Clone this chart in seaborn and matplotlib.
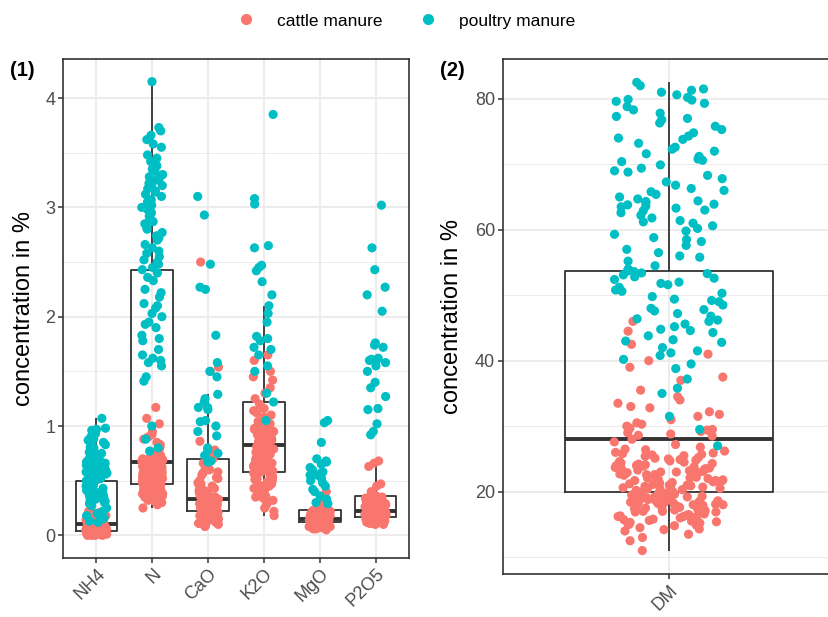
import numpy as np
import pandas as pd
import seaborn as sns
import matplotlib.pyplot as plt
from matplotlib.lines import Line2D
from matplotlib.ticker import MultipleLocator

# categories and groups
nutrients = ['NH4', 'N', 'CaO', 'K2O', 'MgO', 'P2O5']
groups = ['cattle manure', 'poultry manure']
palette = {'cattle manure': '#F8766D', 'poultry manure': '#00BFC4'}

# values (concentration in %)
nh4_cattle = [0.00, 0.00, 0.00, 0.01, 0.01, 0.01, 0.01, 0.01, 0.01, 0.01,
              0.01, 0.02, 0.02, 0.02, 0.02, 0.02, 0.02, 0.02, 0.02, 0.02,
              0.02, 0.02, 0.02, 0.03, 0.03, 0.03, 0.03, 0.03, 0.03, 0.03,
              0.03, 0.03, 0.03, 0.03, 0.03, 0.03, 0.01, 0.02, 0.03, 0.00,
              0.01, 0.02, 0.03, 0.02, 0.01, 0.03, 0.02, 0.03, 0.01, 0.02,
              0.04, 0.04, 0.04, 0.04, 0.05, 0.05, 0.05, 0.05, 0.05, 0.05,
              0.05, 0.06, 0.06, 0.06, 0.06, 0.06, 0.06, 0.06, 0.06, 0.07,
              0.07, 0.07, 0.07, 0.07, 0.07, 0.07, 0.08, 0.08, 0.08, 0.08,
              0.08, 0.08, 0.08, 0.09, 0.09, 0.09, 0.09, 0.09, 0.09, 0.09,
              0.05, 0.06, 0.07, 0.08, 0.09, 0.05, 0.06, 0.07, 0.08, 0.09,
              0.10, 0.11, 0.11, 0.12, 0.12, 0.13, 0.13, 0.14, 0.14, 0.15,
              0.15, 0.16, 0.16, 0.17, 0.17, 0.18, 0.19, 0.20, 0.21, 0.22,
              0.23]
nh4_poultry = [0.12, 0.13, 0.15, 0.16, 0.18, 0.20, 0.22, 0.25, 0.27, 0.29,
               0.30, 0.31, 0.32, 0.33, 0.34, 0.35, 0.36, 0.37, 0.38, 0.39,
               0.40, 0.41, 0.42, 0.43, 0.44, 0.45, 0.46, 0.47, 0.49, 0.50,
               0.51, 0.52, 0.53, 0.54, 0.55, 0.55, 0.56, 0.57, 0.58, 0.58,
               0.59, 0.60, 0.60, 0.61, 0.62, 0.62, 0.63, 0.64, 0.64, 0.65,
               0.66, 0.66, 0.67, 0.68, 0.68, 0.69, 0.70, 0.71, 0.72, 0.73,
               0.74, 0.75, 0.76, 0.77, 0.78, 0.80, 0.81, 0.83, 0.85, 0.87,
               0.88, 0.90, 0.93, 0.96, 0.97, 0.98, 0.60, 0.65, 0.70, 1.07]

n_cattle = [0.25, 0.28, 0.30, 0.31, 0.32, 0.33, 0.34, 0.35, 0.35, 0.36,
            0.36, 0.37, 0.37, 0.38, 0.38, 0.39, 0.39, 0.40, 0.40, 0.40,
            0.41, 0.41, 0.41, 0.42, 0.42, 0.42, 0.43, 0.43, 0.43, 0.43,
            0.44, 0.44, 0.44, 0.44, 0.45, 0.45, 0.45, 0.45, 0.46, 0.46,
            0.46, 0.46, 0.33, 0.38, 0.42, 0.44, 0.31, 0.39, 0.45, 0.36,
            0.47, 0.48, 0.48, 0.49, 0.49, 0.50, 0.50, 0.51, 0.51, 0.52,
            0.52, 0.53, 0.53, 0.54, 0.54, 0.55, 0.55, 0.56, 0.56, 0.57,
            0.57, 0.58, 0.58, 0.59, 0.59, 0.60, 0.60, 0.61, 0.61, 0.62,
            0.62, 0.63, 0.63, 0.64, 0.64, 0.65, 0.65, 0.66, 0.66, 0.48,
            0.50, 0.52, 0.54, 0.56, 0.58, 0.60, 0.62, 0.64, 0.66, 0.55,
            0.67, 0.68, 0.69, 0.70, 0.71, 0.72, 0.73, 0.74, 0.75, 0.77,
            0.79, 0.81, 0.83, 0.85, 0.88, 0.90, 0.92, 0.95, 1.02, 1.07,
            1.17]
n_poultry = [0.77, 0.80, 0.88, 1.00, 1.41, 1.45, 1.55, 1.58, 1.60, 1.62,
             1.65, 1.70, 1.78, 1.80, 1.83, 1.90, 1.93, 1.95, 2.00, 2.03,
             2.08, 2.10, 2.12, 2.18, 2.22, 2.25, 2.33, 2.36, 2.40, 2.43,
             2.45, 2.48, 2.50, 2.52, 2.55, 2.58, 2.60, 2.63, 2.66, 2.70,
             2.72, 2.74, 2.77, 2.80, 2.82, 2.85, 2.87, 2.90, 2.92, 2.95,
             2.98, 3.00, 3.02, 3.05, 3.07, 3.10, 3.12, 3.14, 3.15, 3.17,
             3.19, 3.20, 3.22, 3.25, 3.27, 3.28, 3.30, 3.33, 3.35, 3.38,
             3.42, 3.45, 3.48, 3.55, 3.58, 3.62, 3.66, 3.70, 3.73, 4.15]

cao_cattle = [0.08, 0.09, 0.10, 0.11, 0.12, 0.12, 0.13, 0.13, 0.14, 0.14,
              0.15, 0.15, 0.16, 0.16, 0.17, 0.17, 0.18, 0.18, 0.19, 0.19,
              0.20, 0.20, 0.21, 0.21, 0.11, 0.14, 0.16, 0.18, 0.20, 0.21,
              0.22, 0.23, 0.23, 0.24, 0.24, 0.25, 0.25, 0.26, 0.26, 0.27,
              0.27, 0.28, 0.28, 0.29, 0.29, 0.30, 0.30, 0.31, 0.31, 0.32,
              0.32, 0.23, 0.25, 0.26, 0.27, 0.28, 0.29, 0.30, 0.31, 0.32,
              0.33, 0.34, 0.35, 0.36, 0.37, 0.38, 0.39, 0.40, 0.41, 0.42,
              0.43, 0.44, 0.45, 0.46, 0.47, 0.48, 0.49, 0.50, 0.52, 0.53,
              0.55, 0.57, 0.58, 0.60, 0.62, 0.64, 0.66, 0.68, 0.70, 0.75,
              0.78, 0.86, 1.50, 1.54, 2.50]
cao_poultry = [0.67, 0.68, 0.73, 0.75, 0.78, 0.80, 0.91, 0.95, 1.00, 1.04,
               1.05, 1.15, 1.17, 1.17, 1.22, 1.25, 1.29, 1.45, 1.50, 1.58,
               1.83, 2.25, 2.27, 2.48, 2.93, 3.10]

k2o_cattle = [0.18, 0.22, 0.25, 0.28, 0.30, 0.32, 0.34, 0.36, 0.38, 0.40,
              0.41, 0.42, 0.43, 0.44, 0.45, 0.46, 0.47, 0.48, 0.49, 0.50,
              0.51, 0.52, 0.53, 0.54, 0.55, 0.56, 0.57, 0.57, 0.35, 0.45,
              0.58, 0.59, 0.60, 0.61, 0.62, 0.63, 0.64, 0.65, 0.66, 0.67,
              0.68, 0.69, 0.70, 0.71, 0.72, 0.73, 0.74, 0.75, 0.76, 0.77,
              0.78, 0.79, 0.80, 0.81, 0.82, 0.62, 0.66, 0.70, 0.74, 0.78,
              0.83, 0.84, 0.85, 0.86, 0.87, 0.88, 0.89, 0.90, 0.91, 0.92,
              0.93, 0.94, 0.95, 0.96, 0.97, 0.98, 1.00, 1.02, 1.04, 1.06,
              1.08, 1.10, 1.12, 1.14, 1.16, 1.18, 1.20, 0.88, 0.95, 1.25,
              1.30, 1.35, 1.42, 1.45, 1.50, 1.60, 1.65]
k2o_poultry = [1.05, 1.22, 1.30, 1.50, 1.55, 1.65, 1.70, 1.72, 1.78, 1.80,
               1.82, 1.95, 2.03, 2.10, 2.20, 2.32, 2.42, 2.45, 2.47, 2.63,
               2.65, 3.03, 3.08, 3.85]

mgo_cattle = [0.05, 0.06, 0.06, 0.07, 0.07, 0.07, 0.08, 0.08, 0.08, 0.08,
              0.09, 0.09, 0.09, 0.09, 0.10, 0.10, 0.10, 0.10, 0.11, 0.11,
              0.11, 0.11, 0.11, 0.06, 0.08, 0.09, 0.10, 0.11, 0.07, 0.09,
              0.12, 0.13, 0.13, 0.13, 0.13, 0.13, 0.13, 0.13, 0.13, 0.13,
              0.13, 0.13, 0.13, 0.13, 0.13, 0.13, 0.14, 0.14, 0.14, 0.14,
              0.14, 0.14, 0.14, 0.14, 0.14, 0.14, 0.14, 0.14, 0.14, 0.14,
              0.15, 0.16, 0.16, 0.16, 0.16, 0.17, 0.17, 0.17, 0.17, 0.18,
              0.18, 0.18, 0.18, 0.19, 0.19, 0.19, 0.19, 0.20, 0.20, 0.20,
              0.20, 0.21, 0.21, 0.21, 0.21, 0.22, 0.22, 0.22, 0.23, 0.23,
              0.23, 0.24, 0.25, 0.26, 0.27, 0.28, 0.29, 0.40]
mgo_poultry = [0.29, 0.30, 0.33, 0.36, 0.40, 0.42, 0.45, 0.48, 0.50, 0.52,
               0.55, 0.55, 0.57, 0.58, 0.60, 0.62, 0.65, 0.67, 0.68, 0.70,
               0.85, 1.03, 1.05]

p2o5_cattle = [0.10, 0.10, 0.11, 0.11, 0.11, 0.12, 0.12, 0.12, 0.13, 0.13,
               0.13, 0.13, 0.14, 0.14, 0.14, 0.14, 0.15, 0.15, 0.15, 0.15,
               0.16, 0.16, 0.16, 0.16, 0.16, 0.12, 0.13, 0.14, 0.15, 0.16,
               0.17, 0.18, 0.18, 0.18, 0.18, 0.18, 0.18, 0.18, 0.19, 0.19,
               0.19, 0.19, 0.19, 0.19, 0.19, 0.20, 0.20, 0.20, 0.20, 0.20,
               0.20, 0.20, 0.21, 0.21, 0.21, 0.21, 0.21, 0.21, 0.21, 0.21,
               0.22, 0.23, 0.23, 0.24, 0.24, 0.25, 0.25, 0.26, 0.26, 0.27,
               0.27, 0.28, 0.28, 0.29, 0.29, 0.30, 0.30, 0.31, 0.31, 0.32,
               0.32, 0.33, 0.33, 0.34, 0.34, 0.35, 0.35, 0.36, 0.36, 0.36,
               0.40, 0.45, 0.47, 0.63, 0.66, 0.68, 0.29]
p2o5_poultry = [0.92, 0.95, 1.02, 1.15, 1.16, 1.27, 1.35, 1.40, 1.50, 1.55,
                1.58, 1.60, 1.60, 1.61, 1.62, 1.72, 1.74, 1.76, 2.05, 2.20,
                2.27, 2.43, 2.63, 3.02]

dm_cattle = [11.0, 12.5, 13.0, 13.5, 14.0, 14.2, 14.5, 14.8, 15.0, 15.2,
             15.4, 15.6, 15.8, 16.0, 16.1, 16.3, 16.5, 16.6, 16.8, 17.0,
             17.1, 17.2, 17.4, 17.5, 17.6, 17.8, 17.9, 18.0, 18.1, 18.2,
             18.3, 18.4, 18.5, 18.6, 18.7, 18.8, 18.9, 19.0, 19.1, 19.2,
             19.3, 19.4, 19.5, 19.6, 19.7, 19.8, 19.9, 18.5, 17.3, 16.2,
             15.5, 14.9, 19.5, 18.9, 17.7, 16.9, 19.8, 18.2, 17.0, 15.9,
             19.1, 18.6, 16.4, 20.0, 20.2, 20.4, 20.5, 20.7, 20.9, 21.0,
             21.2, 21.3, 21.5, 21.7, 21.8, 22.0, 22.1, 22.3, 22.5, 22.6,
             22.8, 23.0, 23.1, 23.3, 23.5, 23.6, 23.8, 24.0, 24.2, 24.4,
             24.6, 24.8, 25.0, 25.2, 25.4, 25.6, 25.9, 26.2, 26.5, 26.8,
             27.2, 27.6, 20.3, 20.8, 21.1, 21.6, 22.2, 22.7, 23.2, 23.7,
             24.3, 24.9, 25.5, 26.0, 20.6, 21.4, 22.4, 23.4, 24.1, 21.9,
             22.9, 20.1, 21.5, 23.9, 25.7, 28.0, 28.5, 28.8, 29.0, 29.2,
             29.5, 29.7, 30.0, 30.3, 31.0, 31.8, 32.2, 32.8, 33.5, 34.0,
             34.5, 35.5, 37.0, 37.5, 39.0, 40.0, 41.0, 42.5, 44.5, 46.0,
             14.3, 15.1, 15.7, 16.2, 16.7, 17.3, 17.6, 18.1, 18.4, 18.8,
             19.2, 19.6, 16.9, 15.3, 18.0, 20.4, 21.0, 21.7, 22.1, 22.6,
             23.0, 23.5, 24.0, 24.5, 25.1, 25.8, 26.4, 20.9, 22.9, 24.7,
             28.6, 29.4, 30.5, 31.5, 33.0]
dm_poultry = [27.0, 29.5, 31.5, 35.0, 35.8, 37.2, 38.8, 39.5, 40.2, 40.8,
              41.5, 42.0, 42.8, 43.2, 43.8, 44.3, 44.8, 45.2, 45.6, 46.0,
              46.4, 46.8, 47.2, 47.6, 48.0, 48.5, 49.0, 49.4, 49.8, 50.3,
              50.8, 51.2, 51.6, 52.0, 52.4, 52.8, 53.1, 53.4, 53.6, 53.7,
              54.0, 54.5, 55.2, 55.8, 56.5, 57.0, 57.6, 58.2, 58.8, 59.3,
              59.8, 60.2, 60.6, 61.0, 61.4, 61.8, 62.2, 62.6, 63.0, 63.3,
              63.6, 63.8, 64.1, 64.4, 64.7, 65.0, 65.4, 65.8, 66.3, 66.8,
              67.3, 67.8, 68.3, 68.8, 69.4, 69.9, 70.4, 70.8, 71.2, 71.6,
              72.0, 72.6, 73.2, 73.8, 74.3, 74.8, 75.3, 75.8, 76.3, 76.8,
              77.3, 77.8, 78.3, 78.8, 79.3, 79.6, 79.9, 80.2, 80.6, 81.0,
              81.5, 82.0, 82.5, 41.2, 43.0, 44.6, 46.2, 47.8, 49.2, 50.6,
              51.8, 52.6, 53.3, 56.0, 58.5, 61.2, 62.9, 63.5, 63.9, 64.3,
              66.0, 69.0, 70.6, 72.3, 74.0, 77.0, 79.8, 81.3]

cattle = {'NH4': nh4_cattle, 'N': n_cattle, 'CaO': cao_cattle,
          'K2O': k2o_cattle, 'MgO': mgo_cattle, 'P2O5': p2o5_cattle}
poultry = {'NH4': nh4_poultry, 'N': n_poultry, 'CaO': cao_poultry,
           'K2O': k2o_poultry, 'MgO': mgo_poultry, 'P2O5': p2o5_poultry}

rows = []
for nut in nutrients:
    rows += [(nut, 'cattle manure', v) for v in cattle[nut]]
    rows += [(nut, 'poultry manure', v) for v in poultry[nut]]
df = pd.DataFrame(rows, columns=['nutrient', 'manure', 'value'])

df_dm = pd.DataFrame(
    [('DM', 'cattle manure', v) for v in dm_cattle] +
    [('DM', 'poultry manure', v) for v in dm_poultry],
    columns=['nutrient', 'manure', 'value'])

plt.rcParams['font.family'] = ['Liberation Sans', 'DejaVu Sans']

fig = plt.figure(figsize=(8.29, 6.17), dpi=100)
ax1 = fig.add_axes([0.076, 0.0956, 0.4174, 0.8088])
ax2 = fig.add_axes([0.6064, 0.0697, 0.402, 0.8347])

box_kw = dict(fill=False, color='#333333', width=0.75, showfliers=False,
              linewidth=1.3, medianprops={'linewidth': 2.8},
              capprops={'visible': False})
pt_kw = dict(hue='manure', hue_order=groups, palette=palette, size=6.6,
             linewidth=0, zorder=3, legend=False)

np.random.seed(7)
sns.boxplot(data=df, x='nutrient', y='value', order=nutrients, ax=ax1, **box_kw)
sns.stripplot(data=df, x='nutrient', y='value', order=nutrients, jitter=0.19,
              ax=ax1, **pt_kw)

sns.boxplot(data=df_dm, x='nutrient', y='value', ax=ax2, **box_kw)
sns.stripplot(data=df_dm, x='nutrient', y='value', jitter=0.2, ax=ax2, **pt_kw)

def style_axis(ax, data, major, minor, xlim):
    lo, hi = data['value'].min(), data['value'].max()
    pad = 0.05 * (hi - lo)
    ax.set_ylim(lo - pad, hi + pad)
    ax.set_xlim(*xlim)
    ax.yaxis.set_major_locator(MultipleLocator(major))
    ax.yaxis.set_minor_locator(MultipleLocator(minor))
    ax.set_axisbelow(True)
    ax.grid(True, which='major', color='#EBEBEB', linewidth=1.3)
    ax.grid(True, which='minor', axis='y', color='#EBEBEB', linewidth=0.7)
    ax.xaxis.grid(True, which='major', color='#EBEBEB', linewidth=1.3)
    for s in ax.spines.values():
        s.set_color('#333333')
        s.set_linewidth(1.2)
    ax.tick_params(which='major', length=3.5, width=1.1, color='#333333',
                   labelsize=13, labelcolor='#4D4D4D', pad=2)
    ax.tick_params(which='minor', length=0)
    ax.set_xlabel('')
    ax.set_ylabel('concentration in %', fontsize=17, color='black')
    for lab in ax.get_xticklabels():
        lab.set_rotation(45)
        lab.set_ha('right')
        lab.set_va('top')
        lab.set_rotation_mode('anchor')

style_axis(ax1, df, 1, 0.5, (-0.6, 5.6))
style_axis(ax2, df_dm, 20, 10, (-0.6, 0.6))
ax1.yaxis.set_label_coords(-0.08, 0.5)
ax2.yaxis.set_label_coords(-0.119, 0.5)

fig.text(0.012, 0.886, '(1)', fontsize=14.5, fontweight='bold', va='center')
fig.text(0.531, 0.886, '(2)', fontsize=14.5, fontweight='bold', va='center')

handles = [Line2D([], [], marker='o', linestyle='', markersize=7,
                  color=palette[g], label=g) for g in groups]
fig.legend(handles=handles, loc='center', bbox_to_anchor=(0.485, 0.966),
           ncol=2, frameon=False, fontsize=12.5, handletextpad=0.8,
           columnspacing=1.6)

fig.savefig('out.png', dpi=100)
